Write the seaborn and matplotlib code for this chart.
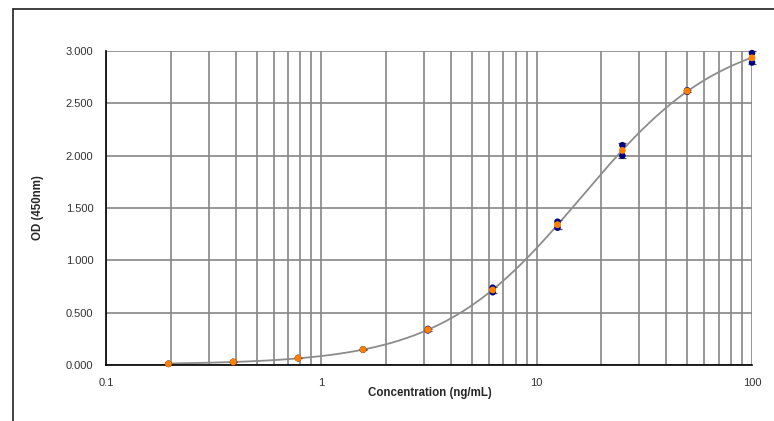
import numpy as np
import pandas as pd
import matplotlib
matplotlib.use('Agg')
import matplotlib.pyplot as plt
import seaborn as sns
from matplotlib.lines import Line2D
from matplotlib.ticker import LogLocator, FixedLocator, FuncFormatter

# Стандартная кривая: концентрации и два повтора OD
conc = [0.195, 0.39, 0.78, 1.5625, 3.125, 6.25, 12.5, 25, 50, 100]
rep1 = [0.012, 0.030, 0.068, 0.150, 0.345, 0.739, 1.369, 2.100, 2.625, 2.980]
rep2 = [0.010, 0.028, 0.064, 0.146, 0.330, 0.695, 1.312, 2.000, 2.610, 2.890]
y_ticks = [0.0, 0.5, 1.0, 1.5, 2.0, 2.5, 3.0]
x_ticks = [0.1, 1, 10, 100]

df = pd.DataFrame({'conc': conc * 2, 'od': rep1 + rep2})
stats = df.groupby('conc')['od'].agg(['mean', 'std']).reset_index()


def four_pl(x, p):
    a, b, c, d = p
    return d + (a - d) / (1 + (x / c) ** b)


def fit_4pl(x, y, p0):
    # простой Гаусс-Ньютон с демпфированием
    p = np.array(p0, dtype=float)
    lam = 1e-3
    for _ in range(200):
        r = y - four_pl(x, p)
        J = np.zeros((len(x), len(p)))
        for i in range(len(p)):
            dp = np.zeros_like(p)
            dp[i] = 1e-6 * max(abs(p[i]), 1)
            J[:, i] = (four_pl(x, p + dp) - four_pl(x, p - dp)) / (2 * dp[i])
        A = J.T @ J + lam * np.diag(np.diag(J.T @ J))
        step = np.linalg.solve(A, J.T @ r)
        p_new = p + step
        if p_new[2] > 0 and np.sum((y - four_pl(x, p_new)) ** 2) < np.sum(r ** 2):
            p = p_new
            lam *= 0.5
        else:
            lam *= 4
    return p


xs = stats['conc'].to_numpy()
ys = stats['mean'].to_numpy()
params = fit_4pl(xs, ys, [0.0, 1.3, 16.0, 3.2])
xx = np.logspace(np.log10(xs.min()), np.log10(xs.max()), 300)
curve = pd.DataFrame({'conc': xx, 'od': four_pl(xx, params)})

sns.set_style('white')
plt.rcParams['font.family'] = ['Liberation Sans', 'DejaVu Sans']

fig = plt.figure(figsize=(7.74, 4.21), dpi=100)
ax = fig.add_axes([106 / 774, 56 / 421, 646 / 774, 314 / 421])

grid_c = '#868686'
ax.set_xscale('log')
ax.set_xlim(0.1, 100)
ax.set_ylim(0, 3.0)
ax.xaxis.set_major_locator(FixedLocator(x_ticks))
ax.xaxis.set_minor_locator(LogLocator(base=10, subs=np.arange(2, 10)))
ax.xaxis.set_major_formatter(FuncFormatter(lambda v, _: f'{v:g}'))
ax.xaxis.set_minor_formatter(FuncFormatter(lambda v, _: ''))
ax.set_yticks(y_ticks)
ax.yaxis.set_major_formatter(FuncFormatter(lambda v, _: f'{v:.3f}'))
ax.grid(True, which='both', axis='x', color=grid_c, lw=1.2)
ax.grid(True, which='major', axis='y', color=grid_c, lw=1.2)
ax.set_axisbelow(True)

for s in ['top', 'right']:
    ax.spines[s].set_visible(False)
for s in ['left', 'bottom']:
    ax.spines[s].set_color('black')
    ax.spines[s].set_linewidth(1.2)
    ax.spines[s].set_zorder(5)
ax.tick_params(axis='both', which='major', direction='out', length=4, width=1,
               color='black', labelsize=8, labelcolor='#333333', pad=5)
ax.tick_params(axis='x', which='minor', length=0)

sns.lineplot(data=curve, x='conc', y='od', color='#8c8c8c', lw=1.3, ax=ax,
             zorder=3, legend=False)
eb = ax.errorbar(stats['conc'], stats['mean'], yerr=stats['std'], fmt='none',
                 ecolor='#555555', elinewidth=0.9, capsize=3, capthick=0.9,
                 zorder=4)
for art in eb.get_children():
    art.set_clip_on(False)
sns.scatterplot(data=df, x='conc', y='od', color='#000080', s=22,
                edgecolor='none', ax=ax, zorder=5, legend=False, clip_on=False)
sns.scatterplot(data=stats, x='conc', y='mean', color='#ff8000', s=24,
                edgecolor='none', ax=ax, zorder=6, legend=False, clip_on=False)

ax.set_xlabel('')
ax.set_ylabel('')
fig.text(430 / 774, 1 - 393 / 421, 'Concentration (ng/mL)', ha='center',
         va='center', fontsize=8.3, fontweight='bold')
fig.text(38 / 774, 1 - 208 / 421, 'OD (450nm)', ha='center', va='center',
         rotation=90, fontsize=8.3, fontweight='bold')

# внешняя рамка (видны только верх и левая сторона)
fig.add_artist(Line2D([13 / 774, 13 / 774], [0, 1 - 9 / 421],
                      transform=fig.transFigure, color='#333333', lw=1.3))
fig.add_artist(Line2D([13 / 774, 1], [1 - 9 / 421, 1 - 9 / 421],
                      transform=fig.transFigure, color='#333333', lw=1.3))

fig.savefig('out.png', dpi=100)
